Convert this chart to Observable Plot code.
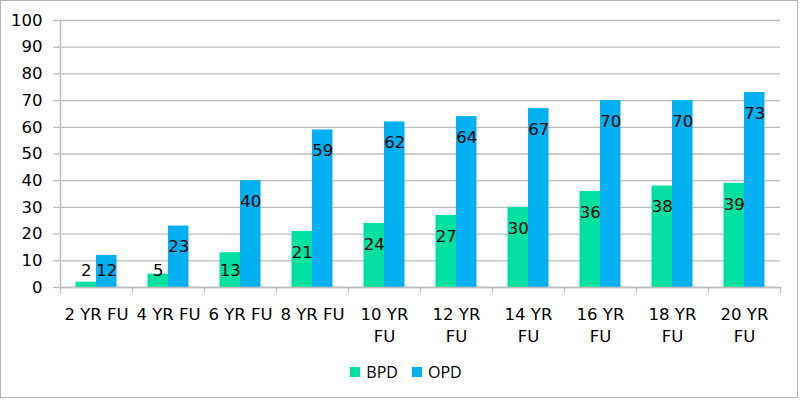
<!DOCTYPE html>
<html>
<head>
<meta charset="utf-8">
<script src="https://cdn.jsdelivr.net/npm/d3@7"></script>
<script src="https://cdn.jsdelivr.net/npm/@observablehq/plot@0.6"></script>
<style>
  body { margin: 0; background: #fff; }
  #wrap { position: relative; width: 800px; height: 400px; overflow: hidden; font-family: "DejaVu Sans", Verdana, sans-serif; }
  #chart { position: absolute; left: 0; top: 0; }
  #border { position: absolute; left: 0; top: 0; width: 796px; height: 396px; border: 1px solid #b4b4b4; pointer-events: none; }
  #legend { position: absolute; left: 0; top: 355px; width: 812px; height: 34px; display: flex; justify-content: center; align-items: center; gap: 14px; font-family: "Open Sans", sans-serif; font-size: 16px; color: #000; }
  .item { display: flex; align-items: center; gap: 6px; }
  .sw { width: 10px; height: 10px; display: inline-block; }
</style>
</head>
<body>
<div id="wrap">
  <div id="chart"></div>
  <div id="legend"></div>
  <div id="border"></div>
</div>
<script>
const categories = ["2 YR FU", "4 YR FU", "6 YR FU", "8 YR FU", "10 YR\nFU", "12 YR\nFU", "14 YR\nFU", "16 YR\nFU", "18 YR\nFU", "20 YR\nFU"];
const bpd = [2, 5, 13, 21, 24, 27, 30, 36, 38, 39];
const opd = [12, 23, 40, 59, 62, 64, 67, 70, 70, 73];
const yTicks = [0, 10, 20, 30, 40, 50, 60, 70, 80, 90, 100];
const seriesNames = ["BPD", "OPD"];
const colors = {BPD: "#00E0A0", OPD: "#00B0F0"};

const bpdData = categories.map((c, i) => ({cat: c, value: bpd[i], series: "BPD"}));
const opdData = categories.map((c, i) => ({cat: c, value: opd[i], series: "OPD"}));
const gray = "#bdbdbd";
const labelY = d => Math.max(d.value, 14.3);

const chart = Plot.plot({
  width: 800,
  height: 355,
  marginLeft: 60,
  marginRight: 20,
  marginTop: 20,
  marginBottom: 68,
  style: {fontFamily: "DejaVu Sans, Verdana, sans-serif", fontSize: "16px", color: "#000", background: "transparent", overflow: "visible"},
  x: {domain: categories, padding: 0, label: null},
  y: {domain: [0, 100], label: null},
  marks: [
    Plot.gridY(yTicks, {stroke: gray, strokeOpacity: 1, strokeWidth: 1.3}),
    Plot.axisY(yTicks, {tickSize: 7, tickPadding: 11, stroke: gray, strokeOpacity: 1, strokeWidth: 1.3, fill: "#000", fontSize: 16.5, label: null}),
    Plot.barY(bpdData, {x: "cat", y: "value", fill: colors.BPD, insetLeft: 15.5, insetRight: 36}),
    Plot.barY(opdData, {x: "cat", y: "value", fill: colors.OPD, insetLeft: 36, insetRight: 15.5}),
    Plot.ruleY([0], {stroke: gray, strokeWidth: 1.5}),
    Plot.ruleX([categories[0]], {x: d => d, y1: 0, y2: 100, dx: -36, stroke: gray, strokeWidth: 1.5}),
    Plot.ruleX(categories, {x: d => d, y1: 0, y2: 0, insetBottom: -6, dx: -36, stroke: gray, strokeWidth: 1.3}),
    Plot.ruleX([categories[categories.length - 1]], {x: d => d, y1: 0, y2: 0, insetBottom: -6, dx: 36, stroke: gray, strokeWidth: 1.3}),
    Plot.axisX({tickSize: 0, tickPadding: 17, fill: "#000", fontSize: 16.5, lineHeight: 1.32, label: null}),
    Plot.text(bpdData, {x: "cat", y: labelY, text: d => String(d.value), dx: -10.25, dy: 21, fill: "#000", fontSize: 16.5, lineAnchor: "middle"}),
    Plot.text(opdData, {x: "cat", y: labelY, text: d => String(d.value), dx: 10.25, dy: 21, fill: "#000", fontSize: 16.5, lineAnchor: "middle"})
  ]
});
document.getElementById("chart").appendChild(chart);

const legend = document.getElementById("legend");
seriesNames.forEach(name => {
  const item = document.createElement("div");
  item.className = "item";
  const sw = document.createElement("span");
  sw.className = "sw";
  sw.style.background = colors[name];
  const t = document.createElement("span");
  t.textContent = name;
  item.appendChild(sw);
  item.appendChild(t);
  legend.appendChild(item);
});
</script>
</body>
</html>
